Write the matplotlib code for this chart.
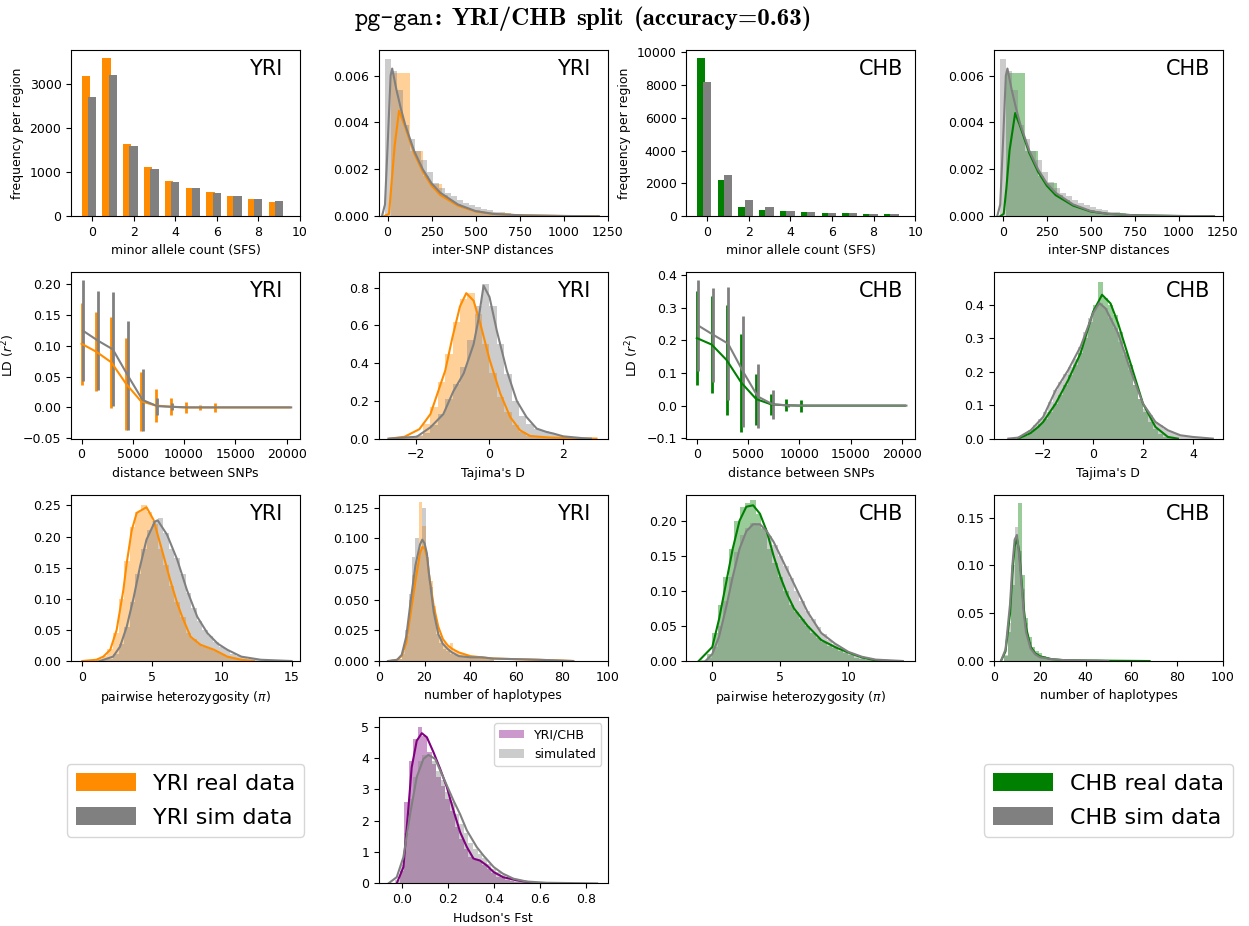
import numpy as np
import matplotlib.pyplot as plt
from matplotlib.patches import Patch
from matplotlib.offsetbox import TextArea, HPacker, AnchoredOffsetbox

plt.rcParams['font.size'] = 9

REAL_YRI = 'darkorange'
REAL_CHB = 'green'
SIM = 'gray'

# --- site frequency spectrum (counts per region) ---
sfs_bins = [0, 1, 2, 3, 4, 5, 6, 7, 8, 9]
sfs_yri_real = [3180, 3580, 1630, 1110, 800, 640, 545, 465, 385, 330]
sfs_yri_sim = [2700, 3200, 1590, 1060, 775, 640, 520, 465, 385, 345]
sfs_chb_real = [9650, 2200, 580, 370, 290, 230, 190, 170, 150, 140]
sfs_chb_sim = [8200, 2500, 980, 560, 330, 250, 200, 175, 140, 130]

# --- inter-SNP distances ---
snp_yri_real_span = (19, 919)
snp_yri_real_hist = [0.0061, 0.0061, 0.0061, 0.0028, 0.0028, 0.0017, 0.00138, 0.00138, 0.0009, 0.0007,
                     0.0005, 0.0004, 0.0003, 0.00025, 0.0002, 0.00015, 0.00012, 0.0001, 0.00008, 0.00006,
                     0.00005, 0.00004, 0.00003, 0.00002, 0.00002]
snp_yri_sim_span = (-15, 1005)
snp_yri_sim_hist = [0.0067, 0.0062, 0.0054, 0.0039, 0.0033, 0.0028, 0.0024, 0.0019, 0.00143, 0.0012,
                    0.0010, 0.00085, 0.0007, 0.00058, 0.00047, 0.00038, 0.0003, 0.00025, 0.0002, 0.00016,
                    0.00013, 0.0001, 0.00008, 0.00006, 0.00005, 0.00004, 0.00003, 0.00002, 0.00002, 0.00001]
snp_yri_real_x = [-20, 8, 20, 40, 65, 100, 150, 200, 250, 300, 400, 500, 600, 750, 1000, 1200]
snp_yri_real_y = [0, 0.0001, 0.0012, 0.003, 0.0045, 0.0038, 0.0027, 0.0019, 0.0013, 0.0009,
                  0.00045, 0.0002, 0.0001, 0.00004, 0.00001, 0]
snp_yri_sim_x = [-32, -15, 0, 17, 26, 50, 75, 100, 150, 200, 250, 300, 400, 500, 600, 750, 1000, 1200]
snp_yri_sim_y = [0, 0.0005, 0.003, 0.006, 0.0063, 0.0054, 0.0046, 0.0039, 0.0028, 0.002,
                 0.0014, 0.001, 0.0005, 0.00022, 0.0001, 0.00004, 0.00001, 0]

snp_chb_real_span = (19, 919)
snp_chb_real_hist = [0.0061, 0.0061, 0.0061, 0.0028, 0.0028, 0.0017, 0.0014, 0.0014, 0.0009, 0.0007,
                     0.0005, 0.0004, 0.0003, 0.00025, 0.0002, 0.00015, 0.00012, 0.0001, 0.00008, 0.00006,
                     0.00005, 0.00004, 0.00003, 0.00002, 0.00002]
snp_chb_sim_span = (-15, 1005)
snp_chb_sim_hist = [0.0067, 0.0062, 0.0054, 0.0039, 0.0033, 0.0028, 0.0024, 0.0019, 0.00145, 0.0012,
                    0.0010, 0.00085, 0.0007, 0.00058, 0.00047, 0.00038, 0.0003, 0.00025, 0.0002, 0.00016,
                    0.00013, 0.0001, 0.00008, 0.00006, 0.00005, 0.00004, 0.00003, 0.00002, 0.00002, 0.00001]
snp_chb_real_x = [-15, 5, 20, 38, 70, 100, 150, 200, 250, 300, 400, 500, 600, 750, 1000, 1200]
snp_chb_real_y = [0, 0.0001, 0.0012, 0.0028, 0.0044, 0.0038, 0.0027, 0.0019, 0.0013, 0.0009,
                  0.00045, 0.0002, 0.0001, 0.00004, 0.00001, 0]
snp_chb_sim_x = [-32, -15, 0, 17, 26, 50, 75, 100, 150, 200, 250, 300, 400, 500, 600, 750, 1000, 1200]
snp_chb_sim_y = [0, 0.0005, 0.003, 0.006, 0.0063, 0.0054, 0.0046, 0.0039, 0.0028, 0.002,
                 0.0014, 0.001, 0.0005, 0.00022, 0.0001, 0.00004, 0.00001, 0]

# --- LD decay (mean r^2 and std per distance bin) ---
ld_dist = [0, 1450, 2900, 4350, 5800, 7250, 8700, 10150, 11600, 13050, 14500, 15950, 17400, 18850, 20300]
ld_dist_sim = [150, 1600, 3050, 4500, 5950, 7400, 8850, 10300, 11750, 13200, 14650, 16100, 17550, 19000, 20450]
ld_yri_real = [0.103, 0.090, 0.073, 0.038, 0.010, 0.003, 0.001, 0.0, 0.0, 0.0, 0, 0, 0, 0, 0]
ld_yri_real_err = [0.066, 0.064, 0.074, 0.075, 0.048, 0.026, 0.014, 0.009, 0.004, 0.007, 0, 0, 0, 0, 0]
ld_yri_sim = [0.124, 0.108, 0.094, 0.052, 0.012, 0.002, 0.001, 0, 0, 0, 0, 0, 0, 0, 0]
ld_yri_sim_err = [0.082, 0.080, 0.092, 0.088, 0.050, 0.014, 0.006, 0, 0, 0, 0, 0, 0, 0, 0]
ld_chb_real = [0.207, 0.187, 0.140, 0.070, 0.020, 0.004, 0.001, 0.0, 0, 0, 0, 0, 0, 0, 0]
ld_chb_real_err = [0.143, 0.148, 0.168, 0.150, 0.078, 0.032, 0.018, 0.018, 0, 0, 0, 0, 0, 0, 0]
ld_chb_sim = [0.245, 0.217, 0.190, 0.105, 0.028, 0.004, 0.001, 0, 0, 0, 0, 0, 0, 0, 0]
ld_chb_sim_err = [0.140, 0.144, 0.172, 0.171, 0.098, 0.044, 0.005, 0, 0, 0, 0, 0, 0, 0, 0]

# --- Tajima's D ---
taj_yri_real_span = (-2.6, 2.0)
taj_yri_real_hist = [0.002, 0.005, 0.01, 0.02, 0.08, 0.17, 0.3, 0.45, 0.62, 0.74, 0.77, 0.66, 0.5, 0.35,
                     0.22, 0.14, 0.07, 0.035, 0.015, 0.008, 0.004, 0.003, 0.002]
taj_yri_sim_span = (-2.4, 2.8)
taj_yri_sim_hist = [0.002, 0.005, 0.012, 0.03, 0.07, 0.13, 0.21, 0.29, 0.38, 0.52, 0.7, 0.82, 0.7, 0.5,
                    0.34, 0.2, 0.12, 0.075, 0.05, 0.04, 0.03, 0.02, 0.008, 0.004, 0.002, 0.001]
taj_yri_real_x = [-2.7, -2.3, -1.9, -1.6, -1.2, -1.0, -0.8, -0.63, -0.43, -0.25, 0.0, 0.29, 0.56, 0.83,
                  1.1, 1.6, 2.2, 2.9]
taj_yri_real_y = [0, 0.01, 0.05, 0.13, 0.36, 0.54, 0.7, 0.77, 0.73, 0.61, 0.42, 0.24, 0.115, 0.044,
                  0.014, 0.006, 0.002, 0]
taj_yri_sim_x = [-2.74, -1.97, -1.6, -1.25, -0.98, -0.7, -0.43, -0.3, -0.16, 0.0, 0.2, 0.47, 0.74, 1.0,
                 1.28, 1.55, 1.73, 2.0, 2.55, 2.75]
taj_yri_sim_y = [0, 0.01, 0.06, 0.13, 0.25, 0.345, 0.5, 0.63, 0.81, 0.75, 0.57, 0.36, 0.2, 0.115,
                 0.053, 0.035, 0.027, 0.012, 0.002, 0]

taj_chb_real_span = (-3.0, 3.2)
taj_chb_real_hist = [0.003, 0.008, 0.017, 0.03, 0.045, 0.06, 0.08, 0.105, 0.13, 0.16, 0.19, 0.22, 0.256,
                     0.3, 0.35, 0.4, 0.47, 0.42, 0.4, 0.37, 0.32, 0.26, 0.22, 0.16, 0.12, 0.08, 0.05,
                     0.03, 0.015, 0.006, 0.002]
taj_chb_sim_span = (-3.4, 4.8)
taj_chb_sim_hist = [0.001, 0.003, 0.008, 0.015, 0.025, 0.04, 0.06, 0.08, 0.11, 0.145, 0.17, 0.195, 0.215,
                    0.24, 0.275, 0.32, 0.36, 0.39, 0.405, 0.39, 0.36, 0.33, 0.29, 0.25, 0.205, 0.16,
                    0.12, 0.09, 0.07, 0.05, 0.04, 0.03, 0.022, 0.016, 0.01, 0.007, 0.005, 0.003,
                    0.002, 0.001, 0.0005]
taj_chb_real_x = [-3.0, -2.5, -2.2, -2.0, -1.5, -1.0, -0.5, 0.0, 0.36, 0.7, 1.0, 1.5, 2.0, 2.5, 3.0, 3.4]
taj_chb_real_y = [0, 0.017, 0.035, 0.05, 0.105, 0.175, 0.256, 0.38, 0.431, 0.405, 0.346, 0.226, 0.105,
                  0.035, 0.005, 0]
taj_chb_sim_x = [-3.4, -3.0, -2.5, -2.0, -1.5, -1.0, -0.5, 0.0, 0.25, 0.5, 1.0, 1.5, 2.0, 2.5, 3.0,
                 3.5, 4.0, 4.8]
taj_chb_sim_y = [0, 0.003, 0.025, 0.065, 0.145, 0.205, 0.276, 0.376, 0.406, 0.39, 0.316, 0.205, 0.105,
                 0.05, 0.025, 0.01, 0.005, 0]

# --- pairwise heterozygosity ---
pi_yri_real_span = (1.0, 12.2)
pi_yri_real_hist = [0.003, 0.008, 0.02, 0.045, 0.1, 0.16, 0.215, 0.24, 0.25, 0.24, 0.22, 0.18, 0.155,
                    0.12, 0.095, 0.07, 0.045, 0.035, 0.028, 0.022, 0.02, 0.016, 0.012, 0.007, 0.005,
                    0.003, 0.001, 0.0005]
pi_yri_sim_span = (1.0, 14.6)
pi_yri_sim_hist = [0.001, 0.002, 0.004, 0.012, 0.028, 0.055, 0.095, 0.14, 0.18, 0.21, 0.225, 0.23, 0.205,
                   0.18, 0.165, 0.14, 0.11, 0.085, 0.065, 0.05, 0.04, 0.03, 0.022, 0.018, 0.012, 0.008,
                   0.006, 0.004, 0.003, 0.002, 0.0015, 0.001, 0.0005, 0.0003]
pi_yri_real_x = [0.0, 1.0, 1.5, 2.0, 2.46, 2.94, 3.18, 3.54, 3.9, 4.6, 5.1, 5.7, 6.3, 6.8, 7.16, 7.76,
                 8.48, 9.45, 10.4, 11.4, 12.3]
pi_yri_real_y = [0, 0.002, 0.007, 0.018, 0.05, 0.114, 0.157, 0.21, 0.238, 0.247, 0.227, 0.179, 0.13,
                 0.093, 0.071, 0.039, 0.026, 0.018, 0.007, 0.002, 0]
pi_yri_sim_x = [1.25, 2.2, 2.7, 3.18, 3.66, 4.14, 4.6, 5.2, 5.4, 6.07, 6.8, 7.5, 8.24, 8.96, 9.7, 10.4,
                11.4, 12.8, 15.0]
pi_yri_sim_y = [0, 0.007, 0.023, 0.055, 0.1, 0.152, 0.195, 0.224, 0.226, 0.203, 0.163, 0.114, 0.071,
                0.045, 0.028, 0.018, 0.007, 0.002, 0]

pi_chb_real_span = (-0.8, 12.4)
pi_chb_real_hist = [0.002, 0.01, 0.04, 0.08, 0.12, 0.16, 0.2, 0.22, 0.225, 0.23, 0.21, 0.19, 0.16, 0.14,
                    0.12, 0.1, 0.08, 0.07, 0.06, 0.05, 0.04, 0.033, 0.027, 0.022, 0.018, 0.014, 0.011,
                    0.008, 0.005, 0.003, 0.002, 0.001, 0.0005]
pi_chb_sim_span = (-0.4, 13.6)
pi_chb_sim_hist = [0.005, 0.02, 0.05, 0.085, 0.12, 0.155, 0.18, 0.19, 0.197, 0.195, 0.188, 0.178, 0.165,
                   0.15, 0.135, 0.118, 0.1, 0.085, 0.072, 0.06, 0.048, 0.038, 0.03, 0.024, 0.018, 0.013,
                   0.01, 0.007, 0.005, 0.003, 0.002, 0.0015, 0.001, 0.0005, 0.0003]
pi_chb_real_x = [-1.0, 0.0, 0.5, 1.0, 1.5, 2.0, 2.5, 3.0, 3.5, 4.0, 4.5, 5.0, 5.5, 6.0, 7.0, 8.0, 9.0,
                 10.0, 11.0, 12.0, 13.0]
pi_chb_real_y = [0, 0.02, 0.06, 0.11, 0.16, 0.2, 0.22, 0.222, 0.21, 0.185, 0.15, 0.12, 0.095, 0.075,
                 0.05, 0.03, 0.02, 0.012, 0.005, 0.001, 0]
pi_chb_sim_x = [-0.5, 0.0, 0.5, 1.0, 1.5, 2.0, 2.5, 3.0, 3.5, 4.0, 4.5, 5.0, 5.5, 6.0, 6.5, 7.0, 7.5,
                8.0, 9.0, 10.0, 11.0, 12.0, 14.0]
pi_chb_sim_y = [0, 0.01, 0.035, 0.075, 0.12, 0.16, 0.185, 0.195, 0.195, 0.185, 0.17, 0.15, 0.13, 0.11,
                0.09, 0.07, 0.055, 0.04, 0.025, 0.013, 0.006, 0.002, 0]

# --- number of haplotypes ---
hap_yri_real_span = (8.5, 50.5)
hap_yri_real_hist = [0.002, 0.006, 0.02, 0.05, 0.07, 0.08, 0.13, 0.11, 0.08, 0.065, 0.045, 0.028, 0.02,
                     0.015, 0.012, 0.015, 0.008, 0.007, 0.006, 0.005, 0.004, 0.004, 0.003, 0.003, 0.003,
                     0.002, 0.002, 0.002]
hap_yri_sim_span = (8.5, 50.5)
hap_yri_sim_hist = [0.002, 0.008, 0.025, 0.055, 0.085, 0.1, 0.09, 0.125, 0.085, 0.06, 0.04, 0.022, 0.015,
                    0.01, 0.008, 0.006, 0.005, 0.004, 0.004, 0.003, 0.003, 0.003, 0.003, 0.003, 0.003,
                    0.002, 0.002, 0.002]
hap_yri_real_x = [5, 8, 10, 12, 14, 16, 18, 19, 20, 21, 22, 24, 26, 28, 30, 32, 35, 40, 45, 50, 60, 70, 85]
hap_yri_real_y = [0, 0.001, 0.004, 0.015, 0.04, 0.065, 0.088, 0.093, 0.092, 0.085, 0.07, 0.045, 0.028,
                  0.018, 0.013, 0.01, 0.007, 0.004, 0.003, 0.002, 0.0015, 0.001, 0]
hap_yri_sim_x = [4, 8, 10, 12, 14, 16, 18, 19, 20, 21, 22, 24, 26, 28, 30, 32, 35, 40, 45, 50, 60, 70, 85]
hap_yri_sim_y = [0, 0.001, 0.005, 0.02, 0.05, 0.078, 0.095, 0.099, 0.096, 0.088, 0.07, 0.04, 0.022,
                 0.014, 0.01, 0.007, 0.004, 0.003, 0.003, 0.002, 0.0015, 0.001, 0]

hap_chb_real_span = (4.5, 40.5)
hap_chb_real_hist = [0.005, 0.03, 0.08, 0.125, 0.165, 0.09, 0.045, 0.025, 0.015, 0.01, 0.008, 0.005,
                     0.004, 0.003, 0.002, 0.002, 0.001, 0.001, 0.001, 0.001, 0.001, 0.0005, 0.0005, 0.0005]
hap_chb_sim_span = (4.5, 40.5)
hap_chb_sim_hist = [0.006, 0.04, 0.1, 0.14, 0.115, 0.075, 0.04, 0.02, 0.012, 0.008, 0.005, 0.004,
                    0.003, 0.002, 0.002, 0.0015, 0.001, 0.001, 0.001, 0.001, 0.0008, 0.0005, 0.0005, 0.0005]
hap_chb_real_x = [3, 5, 7, 8, 9, 10, 11, 12, 13, 14, 16, 18, 20, 25, 30, 40, 68]
hap_chb_real_y = [0, 0.01, 0.05, 0.09, 0.12, 0.128, 0.115, 0.085, 0.055, 0.035, 0.015, 0.008, 0.005,
                  0.002, 0.001, 0.0005, 0]
hap_chb_sim_x = [3, 5, 7, 8, 9, 10, 11, 12, 13, 14, 16, 18, 20, 25, 30, 45, 50]
hap_chb_sim_y = [0, 0.012, 0.06, 0.1, 0.127, 0.132, 0.11, 0.08, 0.05, 0.03, 0.013, 0.007, 0.004,
                 0.002, 0.001, 0.0005, 0]

# --- Hudson's Fst between the two populations ---
fst_real_span = (-0.01, 0.65)
fst_real_hist = [0.4, 2.6, 3.9, 4.6, 5.0, 4.7, 4.2, 3.8, 3.4, 3.1, 2.7, 2.3, 1.8, 1.4, 1.1, 0.85, 0.75,
                 0.72, 0.6, 0.45, 0.32, 0.22, 0.16, 0.11, 0.08, 0.06, 0.04, 0.03, 0.02, 0.015, 0.01,
                 0.006, 0.003]
fst_sim_span = (-0.03, 0.89)
fst_sim_hist = [0.1, 0.6, 1.6, 2.7, 3.4, 3.9, 4.1, 4.1, 3.9, 3.6, 3.3, 2.9, 2.6, 2.2, 1.9, 1.6, 1.3, 1.1,
                0.95, 0.8, 0.62, 0.47, 0.36, 0.27, 0.2, 0.14, 0.1, 0.08, 0.06, 0.045, 0.03, 0.02, 0.015,
                0.01, 0.008, 0.006, 0.004, 0.003, 0.002, 0.002, 0.001, 0.001, 0.001, 0.0005, 0.0005, 0.0005]
fst_real_x = [-0.022, 0.007, 0.029, 0.043, 0.065, 0.087, 0.109, 0.138, 0.167, 0.196, 0.225, 0.254,
              0.283, 0.312, 0.34, 0.37, 0.4, 0.44, 0.5, 0.57, 0.63]
fst_real_y = [0, 0.52, 2.43, 3.7, 4.55, 4.79, 4.66, 4.18, 3.65, 3.07, 2.32, 1.63, 1.16, 0.79, 0.73,
              0.57, 0.36, 0.2, 0.1, 0.02, 0]
fst_sim_x = [-0.058, -0.022, 0.007, 0.036, 0.065, 0.094, 0.116, 0.145, 0.18, 0.225, 0.254, 0.283,
             0.326, 0.355, 0.4, 0.44, 0.486, 0.543, 0.63, 0.85]
fst_sim_y = [0, 0.2, 0.84, 2.2, 3.39, 3.97, 4.1, 3.97, 3.39, 2.64, 2.2, 1.69, 1.16, 0.89, 0.52, 0.31,
             0.15, 0.06, 0.02, 0]


def pop_label(ax, pop):
    ax.text(0.85, 0.85, pop, transform=ax.transAxes, ha='center', va='baseline', fontsize=15)


def sfs_panel(ax, real, sim, color, pop, ymax):
    x = np.array(sfs_bins)
    ax.bar(x - 0.3, real, width=0.4, color=color)
    ax.bar(x, sim, width=0.4, color=SIM)
    ax.set_xlim(-1, 10)
    ax.set_ylim(0, ymax)
    ax.set_xlabel('minor allele count (SFS)')
    ax.set_ylabel('frequency per region')
    pop_label(ax, pop)


def hist(ax, span, heights, color):
    edges = np.linspace(span[0], span[1], len(heights) + 1)
    ax.bar(edges[:-1], heights, width=np.diff(edges), align='edge', color=color, alpha=0.4, linewidth=0)


def dist_panel(ax, real, sim, color, xlabel, xlim, ylim, pop=None):
    # real = (span, hist, kde_x, kde_y), same for sim
    hist(ax, real[0], real[1], color)
    hist(ax, sim[0], sim[1], SIM)
    ax.plot(real[2], real[3], color=color, lw=1.5)
    ax.plot(sim[2], sim[3], color=SIM, lw=1.5)
    ax.set_xlim(*xlim)
    ax.set_ylim(*ylim)
    ax.set_xlabel(xlabel)
    if pop:
        pop_label(ax, pop)


def ld_panel(ax, real, real_err, sim, sim_err, color, pop, ylim):
    ax.errorbar(ld_dist, real, yerr=real_err, color=color, lw=1.5, elinewidth=2)
    ax.errorbar(ld_dist_sim, sim, yerr=sim_err, color=SIM, lw=1.5, elinewidth=2)
    ax.set_xlim(-1010, 21300)
    ax.set_ylim(*ylim)
    ax.set_xticks([0, 5000, 10000, 15000, 20000])
    ax.set_xlabel('distance between SNPs')
    ax.set_ylabel('LD ($r^2$)')
    pop_label(ax, pop)


fig, axes = plt.subplots(4, 4, figsize=(12.49, 9.26), dpi=100)
fig.subplots_adjust(left=0.057, right=0.979, top=0.946, bottom=0.046, wspace=0.345, hspace=0.338)

# row 1: SFS and inter-SNP distances
sfs_panel(axes[0, 0], sfs_yri_real, sfs_yri_sim, REAL_YRI, 'YRI', 3760)
sfs_panel(axes[0, 2], sfs_chb_real, sfs_chb_sim, REAL_CHB, 'CHB', 10140)
dist_panel(axes[0, 1], (snp_yri_real_span, snp_yri_real_hist, snp_yri_real_x, snp_yri_real_y),
           (snp_yri_sim_span, snp_yri_sim_hist, snp_yri_sim_x, snp_yri_sim_y),
           REAL_YRI, 'inter-SNP distances', (-50, 1250), (0, 0.00709), 'YRI')
dist_panel(axes[0, 3], (snp_chb_real_span, snp_chb_real_hist, snp_chb_real_x, snp_chb_real_y),
           (snp_chb_sim_span, snp_chb_sim_hist, snp_chb_sim_x, snp_chb_sim_y),
           REAL_CHB, 'inter-SNP distances', (-50, 1250), (0, 0.00709), 'CHB')
for ax in (axes[0, 1], axes[0, 3]):
    ax.set_xticks([0, 250, 500, 750, 1000, 1250])
    ax.set_yticks([0, 0.002, 0.004, 0.006])
    ax.set_yticklabels(['0.000', '0.002', '0.004', '0.006'])

# row 2: LD and Tajima's D
ld_panel(axes[1, 0], ld_yri_real, ld_yri_real_err, ld_yri_sim, ld_yri_sim_err, REAL_YRI, 'YRI',
         (-0.0505, 0.2185))
ld_panel(axes[1, 2], ld_chb_real, ld_chb_real_err, ld_chb_sim, ld_chb_sim_err, REAL_CHB, 'CHB',
         (-0.101, 0.408))
dist_panel(axes[1, 1], (taj_yri_real_span, taj_yri_real_hist, taj_yri_real_x, taj_yri_real_y),
           (taj_yri_sim_span, taj_yri_sim_hist, taj_yri_sim_x, taj_yri_sim_y),
           REAL_YRI, "Tajima's D", (-3.0, 3.2), (0, 0.88), 'YRI')
dist_panel(axes[1, 3], (taj_chb_real_span, taj_chb_real_hist, taj_chb_real_x, taj_chb_real_y),
           (taj_chb_sim_span, taj_chb_sim_hist, taj_chb_sim_x, taj_chb_sim_y),
           REAL_CHB, "Tajima's D", (-3.97, 5.2), (0, 0.498), 'CHB')
axes[1, 3].set_xticks([-2, 0, 2, 4])

# row 3: pi and haplotypes
dist_panel(axes[2, 0], (pi_yri_real_span, pi_yri_real_hist, pi_yri_real_x, pi_yri_real_y),
           (pi_yri_sim_span, pi_yri_sim_hist, pi_yri_sim_x, pi_yri_sim_y),
           REAL_YRI, r'pairwise heterozygosity ($\pi$)', (-0.8, 15.6), (0, 0.267), 'YRI')
dist_panel(axes[2, 2], (pi_chb_real_span, pi_chb_real_hist, pi_chb_real_x, pi_chb_real_y),
           (pi_chb_sim_span, pi_chb_sim_hist, pi_chb_sim_x, pi_chb_sim_y),
           REAL_CHB, r'pairwise heterozygosity ($\pi$)', (-1.9, 14.9), (0, 0.237), 'CHB')
dist_panel(axes[2, 1], (hap_yri_real_span, hap_yri_real_hist, hap_yri_real_x, hap_yri_real_y),
           (hap_yri_sim_span, hap_yri_sim_hist, hap_yri_sim_x, hap_yri_sim_y),
           REAL_YRI, 'number of haplotypes', (0, 100), (0, 0.1356), 'YRI')
dist_panel(axes[2, 3], (hap_chb_real_span, hap_chb_real_hist, hap_chb_real_x, hap_chb_real_y),
           (hap_chb_sim_span, hap_chb_sim_hist, hap_chb_sim_x, hap_chb_sim_y),
           REAL_CHB, 'number of haplotypes', (0, 100), (0, 0.174), 'CHB')

# row 4: Fst plus the two population legends
ax = axes[3, 1]
dist_panel(ax, (fst_real_span, fst_real_hist, fst_real_x, fst_real_y),
           (fst_sim_span, fst_sim_hist, fst_sim_x, fst_sim_y),
           'purple', "Hudson's Fst", (-0.1, 0.895), (0, 5.3))
ax.set_xticks([0.0, 0.2, 0.4, 0.6, 0.8])
ax.legend(handles=[Patch(facecolor='purple', alpha=0.4, label='YRI/CHB'),
                   Patch(facecolor=SIM, alpha=0.4, label='simulated')],
          loc='upper right', fontsize=9)

for ax in (axes[3, 0], axes[3, 2], axes[3, 3]):
    ax.axis('off')

axes[3, 0].legend(handles=[Patch(facecolor=REAL_YRI, label='YRI real data'),
                           Patch(facecolor=SIM, label='YRI sim data')],
                  loc='center', fontsize=16, handlelength=2.7, handleheight=0.9, labelspacing=0.6)
axes[3, 3].legend(handles=[Patch(facecolor=REAL_CHB, label='CHB real data'),
                           Patch(facecolor=SIM, label='CHB sim data')],
                  loc='center', fontsize=16, handlelength=2.7, handleheight=0.9, labelspacing=0.6)

# title: typewriter program name followed by bold Computer Modern text
tt = dict(family='cmtt10', size=18)
bf = dict(family='cmb10', size=18)
words = [HPacker(children=[TextArea('pg-gan', textprops=tt), TextArea(':', textprops=bf)],
                 pad=0, sep=1, align='baseline')]
for w in ['YRI/CHB', 'split', '(accuracy=0.63)']:
    words.append(TextArea(w, textprops=bf))
title = AnchoredOffsetbox(loc='upper center',
                          child=HPacker(children=words, pad=0, sep=7, align='baseline'),
                          pad=0, borderpad=0, frameon=False,
                          bbox_to_anchor=(0.467, 0.993), bbox_transform=fig.transFigure)
fig.add_artist(title)

fig.savefig('out.png', dpi=100)
